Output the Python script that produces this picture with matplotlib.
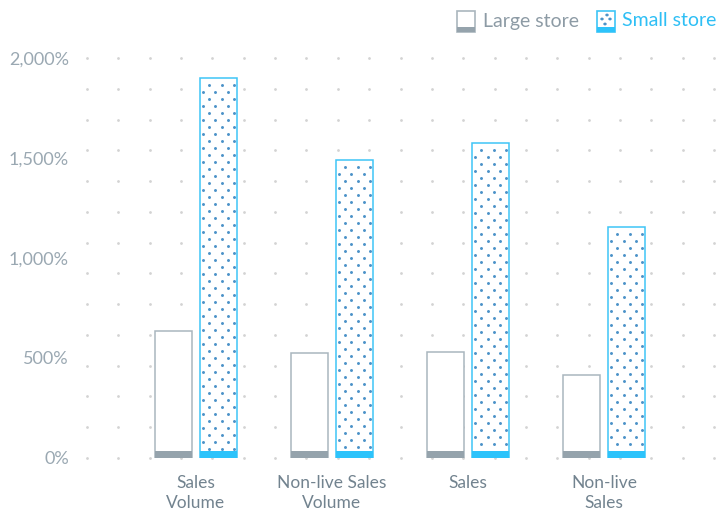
import numpy as np
import matplotlib.pyplot as plt
from matplotlib.patches import Rectangle

plt.rcParams['font.family'] = ['Lato', 'DejaVu Sans']

categories = ["Sales\nVolume", "Non-live Sales\nVolume", "Sales", "Non-live\nSales"]
large_store = [635, 525, 530, 415]
small_store = [1900, 1490, 1575, 1155]
y_ticks = [0, 500, 1000, 1500, 2000]
y_tick_labels = ["0%", "500%", "1,000%", "1,500%", "2,000%"]

GREY_EDGE = "#aab6be"
GREY_BASE = "#95a3ac"
BLUE_EDGE = "#3ec5f6"
BLUE_BASE = "#2cc3fb"
BLUE_DOT = "#4b92c8"
DOT_GRID = "#d3d3d3"
TICK_COLOR = "#9aa8b2"
LABEL_COLOR = "#72838f"

W, H = 722, 516
fig = plt.figure(figsize=(W / 100, H / 100), dpi=100)
ax = fig.add_axes([87 / W, 1 - 458 / H, (714 - 87) / W, 400 / H])

x = np.arange(len(categories))
bar_w = 0.272
offset = 0.165
base_h = 35

ax.set_xlim(-0.801, 3.809)
ax.set_ylim(0, 2000)

# dotted background grid
gx = np.linspace(-0.801, 3.809, 21)
gy = np.linspace(0, 2000, 14)
GX, GY = np.meshgrid(gx, gy)
ax.scatter(GX.ravel(), GY.ravel(), s=4, color=DOT_GRID, linewidths=0,
           zorder=0, clip_on=False)

# large store: outlined empty bars with grey base strip
ax.bar(x - offset, large_store, width=bar_w, color="white",
       edgecolor=GREY_EDGE, linewidth=1.1, zorder=2)
ax.bar(x - offset, base_h, width=bar_w, color=GREY_BASE, linewidth=0, zorder=3)

# small store: dotted bars with blue base strip
ax.bar(x + offset, small_store, width=bar_w, color="white",
       edgecolor=BLUE_EDGE, linewidth=1.1, zorder=2)
ax.bar(x + offset, base_h, width=bar_w, color=BLUE_BASE, linewidth=0, zorder=3)

step_x = 12.6 / 136
row_h = 35
for xc, v in zip(x + offset, small_store):
    left = xc - bar_w / 2
    right = xc + bar_w / 2
    ys = np.arange(v - 33, base_h + 10, -row_h)
    px, py = [], []
    for i, yy in enumerate(ys):
        start = left + (3 if i % 2 else 9.3) / 136
        xs = np.arange(start, right - 1.5 / 136, step_x)
        px.extend(xs)
        py.extend([yy] * len(xs))
    ax.scatter(px, py, s=4.5, color=BLUE_DOT, linewidths=0, zorder=3)

ax.set_xticks(x)
ax.set_xticklabels(categories, color=LABEL_COLOR, fontsize=12.5, linespacing=1.3)
ax.set_yticks(y_ticks)
ax.set_yticklabels(y_tick_labels, color=TICK_COLOR, fontsize=13)
ax.tick_params(axis="x", length=0, pad=12)
ax.tick_params(axis="y", length=0, pad=13)
for s in ax.spines.values():
    s.set_visible(False)


def fig_rect(x0, y0, x1, y1, **kw):
    # rectangle given in pixel coordinates measured from the top-left corner
    fig.add_artist(Rectangle((x0 / W, 1 - y1 / H), (x1 - x0) / W, (y1 - y0) / H,
                             transform=fig.transFigure, **kw))


# legend
fig_rect(457, 11, 475, 32, facecolor="white", edgecolor=GREY_EDGE, linewidth=1.2)
fig_rect(457, 27, 475, 32, facecolor=GREY_BASE, edgecolor="none")
fig.text(483 / W, 1 - 21 / H, "Large store", color="#8d9ba5", fontsize=14,
         va="center", ha="left")

fig_rect(597, 11, 615, 32, facecolor="white", edgecolor=BLUE_EDGE, linewidth=1.2)
fig_rect(597, 27, 615, 32, facecolor=BLUE_BASE, edgecolor="none")
for dx, dy in [(602, 19), (607, 15), (610, 19), (605, 24)]:
    fig.add_artist(plt.Circle((dx / W, 1 - dy / H), 1.0 / W, color=BLUE_DOT,
                              transform=fig.transFigure))
fig.text(622 / W, 1 - 21 / H, "Small store", color="#2ebff5", fontsize=14,
         va="center", ha="left")

fig.savefig("out.png", dpi=100)
